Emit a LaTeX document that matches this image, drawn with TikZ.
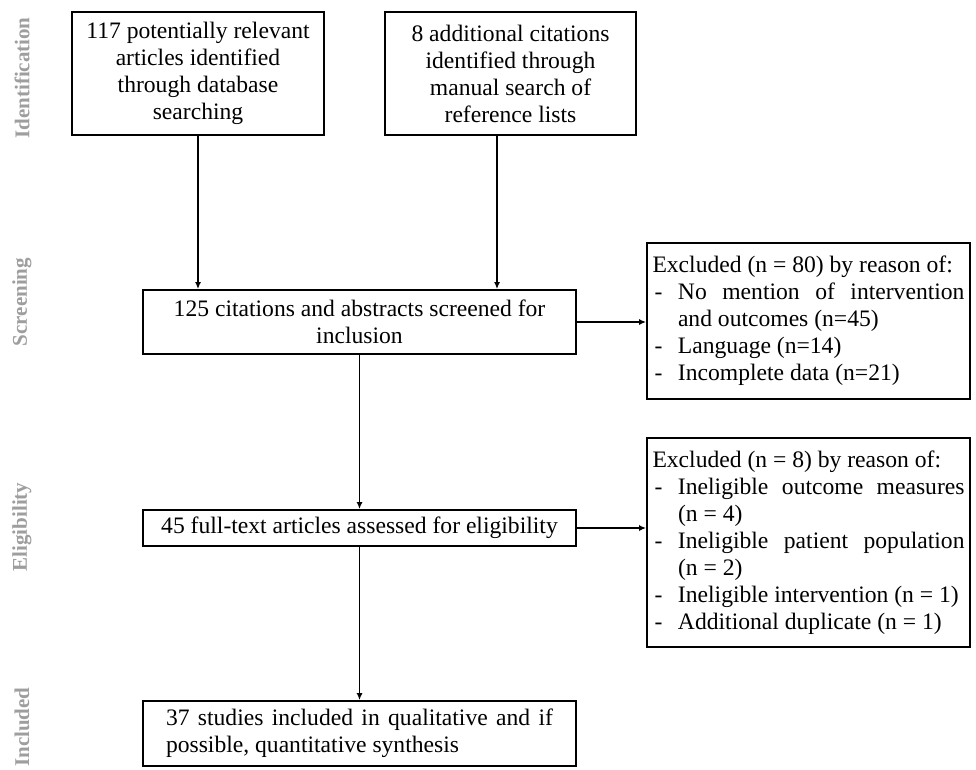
\documentclass[tikz,border=0pt]{standalone}
\usepackage{fontspec}
\setmainfont{Liberation Serif}
\usetikzlibrary{arrows.meta}
\newcommand{\exitem}[1]{\par\noindent\hangindent=25.5pt\hangafter=1\makebox[25.5pt][l]{\hspace{2pt}-}#1\par}
\begin{document}
\begin{tikzpicture}[x=1pt,y=-1pt,
  box/.style={draw, line width=1.8pt, inner sep=0pt, align=center, font=\fontsize{23.6}{27}\selectfont},
  exbox/.style={draw, line width=1.8pt, inner xsep=5.5pt, inner ysep=0pt, text width=312pt, align=justify, font=\fontsize{23.6}{27}\selectfont, minimum width=323pt},
  arr/.style={line width=1.6pt, -{Latex[length=7pt,width=6pt]}},
  phase/.style={rotate=90, font=\fontsize{21}{24}\selectfont\bfseries, text=black!38}]
\useasboundingbox (0,0) rectangle (976,770);
% phase labels
\node[phase] (pid) at (22,78) {Identification};
\node[phase] (psc) at (22,302) {Screening};
\node[phase] (pel) at (22,527) {Eligibility};
\node[phase] (pin) at (22,727) {Included};
% boxes
\node[box, minimum width=252pt, minimum height=123pt] (id1) at (198,73.5) {117 potentially relevant\\articles identified\\through database\\searching};
\node[box, minimum width=251pt, minimum height=123pt] (id2) at (510.5,73.5) {8 additional citations\\identified through\\manual search of\\reference lists};
\node[box, minimum width=433pt, minimum height=64pt] (scr) at (359.5,322) {125 citations and abstracts screened for\\inclusion};
\node[exbox, minimum height=156pt] (ex1) at (808.5,321) {\noindent Excluded (n = 80) by reason of:\par
\exitem{No mention of intervention\linebreak and outcomes (n=45)}
\exitem{Language (n=14)}
\exitem{Incomplete data (n=21)}};
\node[box, minimum width=433pt, minimum height=36pt] (eli) at (359.5,528) {45 full-text articles assessed for eligibility};
\node[exbox, minimum height=209pt] (ex2) at (808.5,542.5) {\noindent Excluded (n = 8) by reason of:\par
\exitem{Ineligible outcome measures\linebreak (n = 4)}
\exitem{Ineligible patient population\linebreak (n = 2)}
\exitem{Ineligible intervention (n = 1)}
\exitem{Additional duplicate (n = 1)}};
\node[box, minimum width=433pt, minimum height=65pt, text width=387pt, align=justify] (inc) at (359.5,733.5) {37 studies included in qualitative and if\linebreak possible, quantitative synthesis};
% connectors
\coordinate (b2) at (497,135);
\draw[arr] (id1.south) -- (id1.south |- scr.north);
\draw[arr] (b2) -- (b2 |- scr.north);
\draw[arr] (scr.east) -- (scr.east -| ex1.west);
\draw[arr] (scr.south) -- (eli.north);
\draw[arr] (eli.east) -- (eli.east -| ex2.west);
\draw[arr] (eli.south) -- (inc.north);
\end{tikzpicture}
\end{document}
